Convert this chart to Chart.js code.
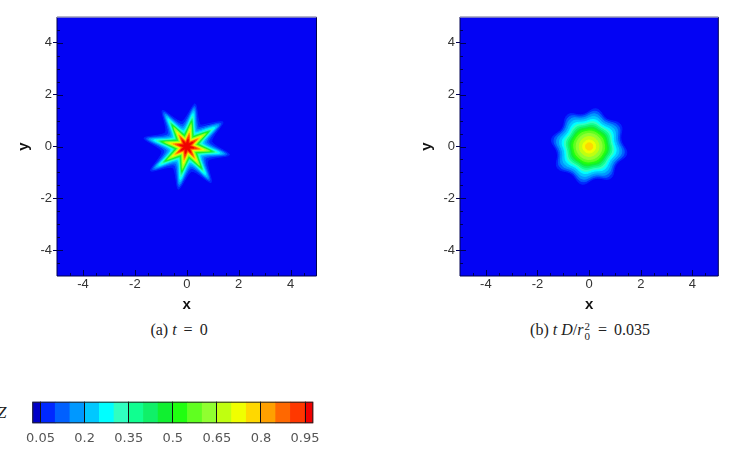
<!DOCTYPE html>
<html>
<head>
<meta charset="utf-8">
<script src="https://cdn.jsdelivr.net/npm/chart.js@4.4.0/dist/chart.umd.min.js"></script>
<style>
    body { margin: 0; width: 730px; height: 450px; background: #fff; position: relative; overflow: hidden; }
    .box { position: absolute; }
    .cap { position: absolute; width: 300px; text-align: center; font: 16px "Liberation Serif", serif; color: #222; white-space: nowrap; }
    .cap .eq { margin: 0 3px; }
    .ss { display: inline-block; vertical-align: -5px; line-height: 10px; font-size: 11px; text-align: left; margin: 0 1px; }
    .ss span { display: block; }
    #zlabel { position: absolute; left: -3px; top: 403px; font: italic 17px "Liberation Serif", serif; color: #222; }
</style>
</head>
<body>
<div class="box" style="left:0;top:0;width:330px;height:320px"><canvas id="chartA"></canvas></div>
<div class="box" style="left:400px;top:0;width:330px;height:320px"><canvas id="chartB"></canvas></div>
<div class="cap" style="left:29px;top:321px">(a) <i>t</i> <span class="eq">=</span> 0</div>
<div class="cap" style="left:440px;top:321px">(b) <i>t</i>&nbsp;<i>D</i>/<i>r</i><span class="ss"><span>2</span><span>0</span></span> <span class="eq">=</span> 0.035</div>
<div id="zlabel">Z</div>
<div class="box" style="left:0;top:390px;width:340px;height:60px"><canvas id="colorbar"></canvas></div>

<script>
// Contour levels of Z and the colour of the band just above each level
const levels = [0.05, 0.10, 0.15, 0.20, 0.25, 0.30, 0.35, 0.40, 0.45, 0.50,
                0.55, 0.60, 0.65, 0.70, 0.75, 0.80, 0.85, 0.90, 0.95];
const bandColors = ['#0028ff', '#0060ff', '#0098ff', '#00c8ff', '#00ffff', '#30ffc0', '#10ff90',
                    '#10f068', '#10f030', '#20ff10', '#60ff20', '#90ff30', '#c0ff10', '#f0ff00',
                    '#ffd800', '#ffa000', '#ff6800', '#ff3800', '#f00000'];
const underColor = '#0000c8';
const colorbarRange = [0.022, 0.978];
const colorbarTicks = [0.05, 0.2, 0.35, 0.5, 0.65, 0.8, 0.95];

// Axis ticks of both panels
const axisTicks = [-4, -2, 0, 2, 4];

// Directions (degrees) of the eight arms of the star
const armAngles = [34, 79, 124, 169, 214, 259, 304, 349];

// (a) t = 0 : radius of each contour along an arm and between two arms
const starArmR    = [1.68, 1.58, 1.49, 1.40, 1.30, 1.20, 1.10, 1.05, 1.00, 0.95,
                     0.90, 0.85, 0.75, 0.67, 0.60, 0.53, 0.46, 0.38, 0.28];
const starValleyR = [0.98, 0.86, 0.77, 0.69, 0.62, 0.56, 0.50, 0.47, 0.44, 0.41,
                     0.38, 0.35, 0.31, 0.28, 0.25, 0.22, 0.19, 0.16, 0.11];

// (b) t D/r0^2 = 0.035 : same, for the diffused blob (null = level not reached)
const blobArmR    = [1.48, 1.38, 1.28, 1.17, 1.06, 0.97, 0.89, 0.82, 0.75, 0.68,
                     0.60, 0.50, 0.38, 0.25, 0.14, null, null, null, null];
const blobValleyR = [1.26, 1.20, 1.13, 1.05, 0.97, 0.90, 0.84, 0.78, 0.72, 0.66,
                     0.59, 0.50, 0.38, 0.25, 0.14, null, null, null, null];

// Build one closed contour from its arm / valley radii
function contourPoints(armR, valleyR) {
    const pts = [];
    armAngles.forEach(a => {
        const t = a * Math.PI / 180;
        const m = (a + 22.5) * Math.PI / 180;
        pts.push({ x: armR * Math.cos(t), y: armR * Math.sin(t) });
        pts.push({ x: valleyR * Math.cos(m), y: valleyR * Math.sin(m) });
    });
    // go once more through the first edge so the curve closes smoothly
    return pts.concat([pts[0], pts[1]]);
}

function contourDatasets(armR, valleyR, tensionOuter, tensionInner) {
    const sets = [];
    levels.forEach((lv, i) => {
        if (armR[i] === null) return;
        sets.push({
            label: 'Z > ' + lv,
            data: contourPoints(armR[i], valleyR[i]),
            showLine: true,
            fill: 'shape',
            backgroundColor: bandColors[i],
            borderColor: bandColors[i],
            borderWidth: 1,
            pointRadius: 0,
            tension: i < 5 ? tensionOuter : tensionInner,
            order: -i
        });
    });
    return sets;
}

// Blue field, inward ticks and frame of a panel
const panelFrame = {
    id: 'panelFrame',
    beforeDatasetsDraw(chart) {
        const { ctx, chartArea: a } = chart;
        ctx.save();
        ctx.fillStyle = '#0303f4';
        ctx.fillRect(a.left, a.top, a.right - a.left, a.bottom - a.top);
        ctx.restore();
    },
    afterDatasetsDraw(chart) {
        const { ctx, chartArea: a, scales } = chart;
        ctx.save();
        ctx.strokeStyle = '#000050';
        ctx.lineWidth = 1;
        ctx.beginPath();
        for (let v = -4.5; v <= 4.5; v += 0.5) {
            const len = Math.abs(v % 2) < 1e-9 ? 6 : 3;
            const px = Math.round(scales.x.getPixelForValue(v)) + 0.5;
            const py = Math.round(scales.y.getPixelForValue(v)) + 0.5;
            ctx.moveTo(px, a.bottom);
            ctx.lineTo(px, a.bottom - len);
            ctx.moveTo(a.left, py);
            ctx.lineTo(a.left + len, py);
        }
        ctx.stroke();
        ctx.beginPath();
        ctx.moveTo(a.left, a.top);
        ctx.lineTo(a.left, a.bottom);
        ctx.lineTo(a.right, a.bottom);
        ctx.lineTo(a.right, a.top);
        ctx.stroke();
        ctx.strokeStyle = '#9c9cb8';
        ctx.lineWidth = 1.5;
        ctx.beginPath();
        ctx.moveTo(a.left, a.top);
        ctx.lineTo(a.right, a.top);
        ctx.stroke();
        ctx.restore();
    }
};

function panelOptions(axisWidth, padRight, yTitlePad) {
    const tickFont = { family: '"Liberation Sans", Arial, sans-serif', size: 13 };
    const titleFont = { family: '"Liberation Sans", Arial, sans-serif', size: 15, weight: 'bold' };
    return {
        responsive: true,
        maintainAspectRatio: false,
        animation: false,
        events: [],
        layout: { padding: { top: 17, right: padRight, left: 0, bottom: 0 } },
        plugins: { legend: { display: false }, tooltip: { enabled: false } },
        scales: {
            x: {
                type: 'linear', min: -5, max: 5,
                afterBuildTicks: s => { s.ticks = axisTicks.map(v => ({ value: v })); },
                afterFit: s => { s.height = 44; },
                grid: { drawOnChartArea: false, drawTicks: false },
                border: { display: false },
                ticks: { padding: 1, color: '#333', font: tickFont },
                title: { display: true, text: 'x', color: '#111', font: titleFont, padding: { top: 0, bottom: 6 } }
            },
            y: {
                type: 'linear', min: -5, max: 5,
                afterBuildTicks: s => { s.ticks = axisTicks.map(v => ({ value: v })); },
                afterFit: s => { s.width = axisWidth; },
                grid: { drawOnChartArea: false, drawTicks: true, tickLength: 4, color: '#000050' },
                border: { display: false },
                ticks: { padding: 1, color: '#333', font: tickFont },
                title: { display: true, text: 'y', color: '#111', font: titleFont, padding: { top: yTitlePad, bottom: 0 } }
            }
        }
    };
}

document.addEventListener('DOMContentLoaded', function() {
    new Chart(document.getElementById('chartA'), {
        type: 'scatter',
        data: { datasets: contourDatasets(starArmR, starValleyR, 0.25, 0.08) },
        options: panelOptions(57, 13.5, 15),
        plugins: [panelFrame]
    });

    new Chart(document.getElementById('chartB'), {
        type: 'scatter',
        data: { datasets: contourDatasets(blobArmR, blobValleyR, 0.42, 0.42) },
        options: panelOptions(60, 11.7, 18),
        plugins: [panelFrame]
    });

    // Colour bar: one floating bar per band
    const edges = [colorbarRange[0]].concat(levels, [colorbarRange[1]]);
    const segColors = [underColor].concat(bandColors);
    const segments = segColors.map((c, i) => ({ x: [edges[i], edges[i + 1]], y: 'Z' }));

    const barFrame = {
        id: 'barFrame',
        afterDraw(chart) {
            const { ctx, chartArea: a } = chart;
            ctx.save();
            ctx.strokeStyle = '#222';
            ctx.lineWidth = 1;
            ctx.strokeRect(a.left + 0.5, a.top + 0.5, a.right - a.left - 1, a.bottom - a.top - 1);
            ctx.restore();
        }
    };

    new Chart(document.getElementById('colorbar'), {
        type: 'bar',
        data: {
            labels: ['Z'],
            datasets: [{
                data: segments,
                backgroundColor: segColors,
                borderWidth: 0,
                barPercentage: 1,
                categoryPercentage: 1,
                grouped: false
            }]
        },
        options: {
            indexAxis: 'y',
            responsive: true,
            maintainAspectRatio: false,
            animation: false,
            events: [],
            layout: { padding: { top: 11.7, left: 32.3, right: 26.7, bottom: 0 } },
            plugins: { legend: { display: false }, tooltip: { enabled: false } },
            scales: {
                x: {
                    type: 'linear', min: colorbarRange[0], max: colorbarRange[1],
                    afterBuildTicks: s => { s.ticks = colorbarTicks.map(v => ({ value: v })); },
                    afterFit: s => { s.height = 26.7; },
                    grid: { drawOnChartArea: true, drawTicks: false, color: '#111', z: 1 },
                    border: { display: false },
                    ticks: {
                        padding: 8, color: '#555',
                        font: { family: '"DejaVu Sans", sans-serif', size: 13 },
                        callback: v => String(Math.round(v * 100) / 100)
                    }
                },
                y: { display: false }
            }
        },
        plugins: [barFrame]
    });
});
</script>
</body>
</html>
